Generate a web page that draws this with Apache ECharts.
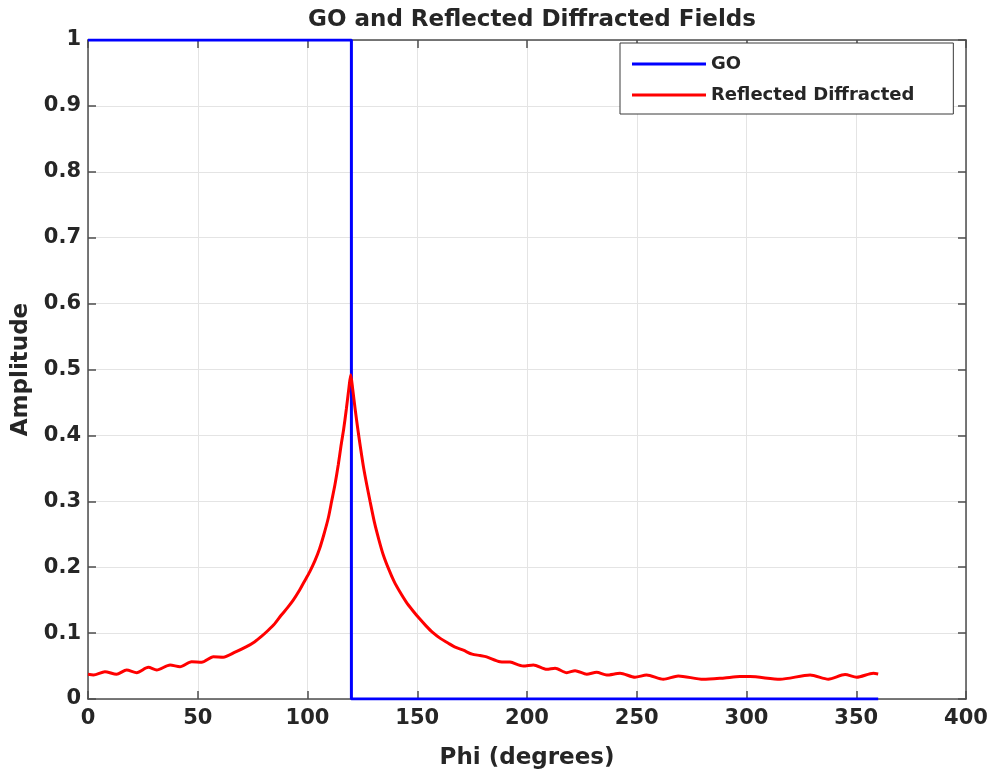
<!DOCTYPE html>
<html><head><meta charset="utf-8">
<script src="https://cdn.jsdelivr.net/npm/echarts@6/dist/echarts.min.js"></script>
<style>html,body{margin:0;padding:0;background:#fff}#c{width:994px;height:775px}</style>
</head><body><div id="c"></div>
<script>
const titleText = 'GO and Reflected Diffracted Fields';
const xName = 'Phi (degrees)';
const yName = 'Amplitude';
const xTicks = [0, 50, 100, 150, 200, 250, 300, 350, 400];
const yTicks = [0, 0.1, 0.2, 0.3, 0.4, 0.5, 0.6, 0.7, 0.8, 0.9, 1];
const goData = [[0,1],[120,1],[120,0],[360,0]];
const rdData = [[0,0.0375],[2.5,0.0364],[7.7,0.0415],[13,0.0375],[17.6,0.044],[22.2,0.040],[27.5,0.048],[31.3,0.044],[37.4,0.0516],[41.9,0.049],[47.2,0.0566],[51.8,0.0556],[57.1,0.064],[61.6,0.0635],
  [67,0.071],[72,0.079],[76,0.087],[79,0.095],[82,0.104],[85,0.114],[88,0.127],[91,0.139],[93.5,0.150],[96,0.163],[98.5,0.178],[101,0.193],[103.4,0.21],[105.5,0.228],[107.5,0.25],[109.5,0.275],[111,0.30],[112.5,0.325],[114,0.355],[115.3,0.385],[116.5,0.41],[117.7,0.44],[118.8,0.47],[119.7,0.492],
  [120.6,0.47],[121.7,0.44],[122.9,0.41],[124.2,0.38],[125.6,0.35],[127,0.325],[128.5,0.30],[130.5,0.268],[132.5,0.242],[134.5,0.219],[137,0.197],[139.5,0.178],[142,0.163],[145,0.147],[148,0.134],[151,0.122],[154,0.111],[157,0.101],[160.5,0.092],[164,0.085],[167,0.079],[171,0.074],[175,0.068],[178.6,0.066],[181.6,0.064],[187.7,0.0566],[192.3,0.056],[198.3,0.050],[202.9,0.0516],[209,0.045],[212.8,0.0466],[218.1,0.040],[221.9,0.043],[227.2,0.0375],[231.7,0.0405],[236.3,0.0364],[242.4,0.039],[249.2,0.033],[254.5,0.0364],[262.1,0.030],[268.9,0.035],[280.3,0.0298],[290,0.032],[297,0.034],[301.6,0.034],[315.3,0.030],[329,0.0364],[337.3,0.030],[344.9,0.037],[350.2,0.033],[357.8,0.039],[360,0.038]];

const FONT = 'DejaVu Sans';
const TXT = '#262626';
const frame = {show:true, onZero:false, lineStyle:{color:'#4d4d4d', width:1.5}};
const tick = {show:true, inside:true, length:8, lineStyle:{color:'#4d4d4d', width:1.5}};
const chart = echarts.init(document.getElementById('c'), null, {renderer:'canvas'});
const xMin = xTicks[0], xMax = xTicks[xTicks.length-1];
const yMin = yTicks[0], yMax = yTicks[yTicks.length-1];
chart.setOption({
  animation:false,
  backgroundColor:'#fff',
  title:{text:titleText, left:527, top:4, textAlign:'center',
    textStyle:{fontFamily:FONT, fontWeight:'bold', fontSize:23, color:TXT}},
  grid:{left:88, right:28, top:40, bottom:76, containLabel:false},
  legend:{
    data:[{name:'GO', icon:'rect'},{name:'Reflected Diffracted', icon:'rect'}],
    orient:'vertical', left:620, top:43,
    backgroundColor:'#fff', borderColor:'#3a3a3a', borderWidth:1,
    padding:[10,39,8,12], itemWidth:74, itemHeight:3, itemGap:9,
    textStyle:{fontFamily:FONT, fontWeight:'bold', fontSize:18, color:TXT, lineHeight:22}
  },
  xAxis:[{
    type:'value', min:xMin, max:xMax, interval:50,
    name:xName, nameLocation:'middle', nameGap:48,
    nameTextStyle:{fontFamily:FONT, fontWeight:'bold', fontSize:23, color:TXT},
    axisLine:frame, axisTick:tick,
    axisLabel:{fontFamily:FONT, fontWeight:'bold', fontSize:21, color:TXT, margin:9},
    splitLine:{show:true, lineStyle:{color:'#e4e4e4', width:1}}
  },{
    type:'value', position:'top', min:xMin, max:xMax, interval:50,
    axisLine:frame, axisTick:tick,
    axisLabel:{show:false}, splitLine:{show:false}
  }],
  yAxis:[{
    type:'value', min:yMin, max:yMax, interval:0.1,
    name:yName, nameLocation:'middle', nameGap:50, nameRotate:90,
    nameTextStyle:{fontFamily:FONT, fontWeight:'bold', fontSize:23, color:TXT},
    axisLine:frame, axisTick:tick,
    axisLabel:{fontFamily:FONT, fontWeight:'bold', fontSize:21, color:TXT, margin:7,
      formatter:v=>String(Math.round(v*10)/10)},
    splitLine:{show:true, lineStyle:{color:'#e4e4e4', width:1}}
  },{
    type:'value', position:'right', min:yMin, max:yMax, interval:0.1,
    axisLine:frame, axisTick:tick,
    axisLabel:{show:false}, splitLine:{show:false}
  }],
  series:[{
    name:'GO', type:'line', data:goData, symbol:'none', xAxisIndex:0, yAxisIndex:0,
    lineStyle:{color:'#0000ff', width:3}, itemStyle:{color:'#0000ff'}, z:3
  },{
    name:'Reflected Diffracted', type:'line', data:rdData, symbol:'none', smooth:0.25,
    xAxisIndex:0, yAxisIndex:0,
    lineStyle:{color:'#ff0000', width:3}, itemStyle:{color:'#ff0000'}, z:4
  }]
});
</script></body></html>
